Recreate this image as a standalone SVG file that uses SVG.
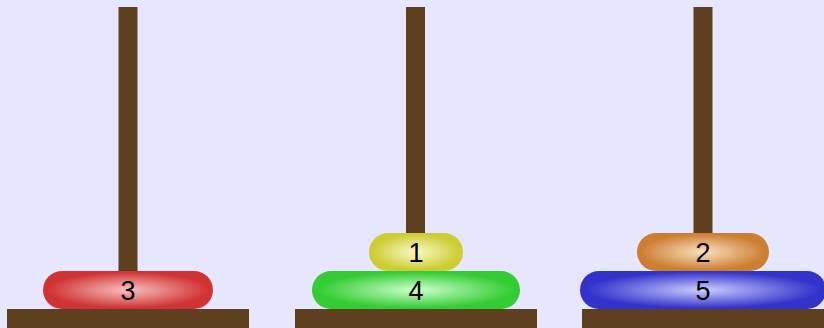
<svg xmlns="http://www.w3.org/2000/svg" width="824" height="328" viewBox="0 0 824 328">
<defs>
<style>
.pole{fill:#5e3f1f}
.base{fill:#5e3f1f}
.lbl{font-family:"Liberation Sans",Arial,sans-serif;font-size:27px;fill:#000;text-anchor:middle}
</style>
<radialGradient id="gr"><stop offset="0" stop-color="#f8c0c0"/><stop offset="0.95" stop-color="#d03333"/></radialGradient>
<radialGradient id="gg"><stop offset="0" stop-color="#ccffcc"/><stop offset="0.95" stop-color="#33cc33"/></radialGradient>
<radialGradient id="gy"><stop offset="0" stop-color="#fafac8"/><stop offset="0.95" stop-color="#cccc33"/></radialGradient>
<radialGradient id="go"><stop offset="0" stop-color="#fae0c0"/><stop offset="0.95" stop-color="#cc7f33"/></radialGradient>
<radialGradient id="gb"><stop offset="0" stop-color="#ccccff"/><stop offset="0.95" stop-color="#3333cc"/></radialGradient>
</defs>
<rect width="824" height="328" fill="#e6e6ff"/>
<g id="peg1">
<rect class="pole" x="118.5" y="7" width="19" height="302"/>
<rect class="base" x="7" y="309" width="242" height="19"/>
</g>
<g id="peg2">
<rect class="pole" x="406" y="7" width="19" height="302"/>
<rect class="base" x="295" y="309" width="242" height="19"/>
</g>
<g id="peg3">
<rect class="pole" x="693.5" y="7" width="19" height="302"/>
<rect class="base" x="582" y="309" width="242" height="19"/>
</g>
<g id="disc3">
<rect x="43" y="271" width="170" height="38" rx="19" fill="url(#gr)"/>
<text class="lbl" x="128" y="300">3</text>
</g>
<g id="disc4">
<rect x="312" y="271" width="208" height="38" rx="19" fill="url(#gg)"/>
<text class="lbl" x="416" y="300">4</text>
</g>
<g id="disc1">
<rect x="369" y="233" width="94" height="38" rx="19" fill="url(#gy)"/>
<text class="lbl" x="416" y="262">1</text>
</g>
<g id="disc5">
<rect x="580" y="271" width="246" height="38" rx="19" fill="url(#gb)"/>
<text class="lbl" x="703" y="300">5</text>
</g>
<g id="disc2">
<rect x="637" y="233" width="132" height="38" rx="19" fill="url(#go)"/>
<text class="lbl" x="703" y="262">2</text>
</g>
<g id="connectors"/>
</svg>
